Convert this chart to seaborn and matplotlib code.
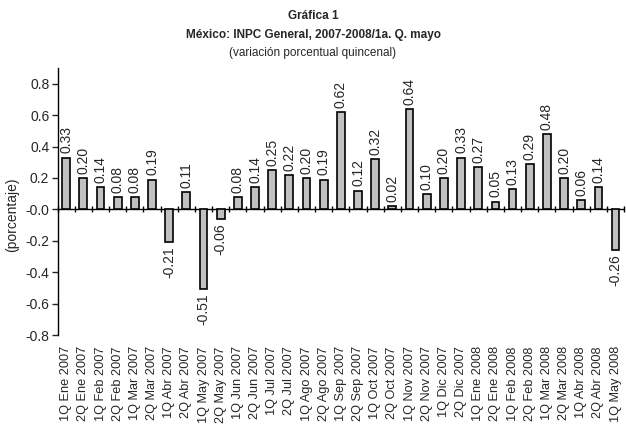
import numpy as np
import pandas as pd
import seaborn as sns
import matplotlib.pyplot as plt

# --- data ---
periods = ["1Q Ene 2007", "2Q Ene 2007", "1Q Feb 2007", "2Q Feb 2007", "1Q Mar 2007",
           "2Q Mar 2007", "1Q Abr 2007", "2Q Abr 2007", "1Q May 2007", "2Q May 2007",
           "1Q Jun 2007", "2Q Jun 2007", "1Q Jul 2007", "2Q Jul 2007", "1Q Ago 2007",
           "2Q Ago 2007", "1Q Sep 2007", "2Q Sep 2007", "1Q Oct 2007", "2Q Oct 2007",
           "1Q Nov 2007", "2Q Nov 2007", "1Q Dic 2007", "2Q Dic 2007", "1Q Ene 2008",
           "2Q Ene 2008", "1Q Feb 2008", "2Q Feb 2008", "1Q Mar 2008", "2Q Mar 2008",
           "1Q Abr 2008", "2Q Abr 2008", "1Q May 2008"]
inpc = [0.33, 0.20, 0.14, 0.08, 0.08, 0.19, -0.21, 0.11, -0.51, -0.06,
        0.08, 0.14, 0.25, 0.22, 0.20, 0.19, 0.62, 0.12, 0.32, 0.02,
        0.64, 0.10, 0.20, 0.33, 0.27, 0.05, 0.13, 0.29, 0.48, 0.20,
        0.06, 0.14, -0.26]

df = pd.DataFrame({"periodo": periods, "variacion": inpc})

sns.set_style("white")
plt.rcParams['font.family'] = ['Liberation Sans', 'DejaVu Sans']

fig = plt.figure(figsize=(6.26, 4.29), dpi=100)
ax = fig.add_axes([0.092, 0.219, 0.905, 0.6225])

sns.barplot(data=df, x="periodo", y="variacion", color="#c0c0c0", saturation=1,
            edgecolor="black", linewidth=1.2, width=0.45, ax=ax)

ymin, ymax = -0.8, 0.9
ax.set_ylim(ymin, ymax)
ax.set_xlim(-0.5, len(periods) - 0.5)
yt = np.arange(-0.8, 0.81, 0.2)
ax.set_yticks(yt)
ax.set_yticklabels([f"{v:.1f}" for v in yt], fontsize=10)
ax.tick_params(axis="y", direction="out", length=4, width=1, left=True, pad=2)

# category labels along the bottom
ax.set_xticks(range(len(periods)))
ax.set_xticklabels(periods, rotation=90, fontsize=9.2, va="top")
ax.tick_params(axis="x", length=0, pad=8)
ax.set_xlabel("")
ax.set_ylabel("(porcentaje)", fontsize=10)
ax.yaxis.set_label_coords(-0.068, 0.45)

for side in ["top", "right", "bottom"]:
    ax.spines[side].set_visible(False)
ax.spines["left"].set_linewidth(1)
ax.spines["left"].set_color("black")

# zero line with category boundary ticks
zero_frac = (0 - ymin) / (ymax - ymin)
sec = ax.secondary_xaxis(zero_frac)
sec.set_xticks(np.arange(len(periods) + 1) - 0.5)
sec.set_xticklabels([])
sec.tick_params(direction="inout", length=5, width=1, color="black")
sec.spines["bottom"].set_linewidth(1)
sec.spines["bottom"].set_color("black")

# value labels
for i, v in enumerate(inpc):
    ax.annotate(f"{v:.2f}", (i, v), xytext=(0, 3 if v >= 0 else -3),
                textcoords="offset points", rotation=90, ha="center",
                va="bottom" if v >= 0 else "top", fontsize=10)

fig.text(0.5, 0.963, "Gráfica 1", ha="center", va="center", fontsize=8.5, fontweight="bold")
fig.text(0.5, 0.918, "México: INPC General, 2007-2008/1a. Q. mayo", ha="center",
         va="center", fontsize=8.5, fontweight="bold")
fig.text(0.5, 0.876, "(variación porcentual quincenal)", ha="center", va="center", fontsize=8.5)

fig.savefig("out.png", dpi=100)
